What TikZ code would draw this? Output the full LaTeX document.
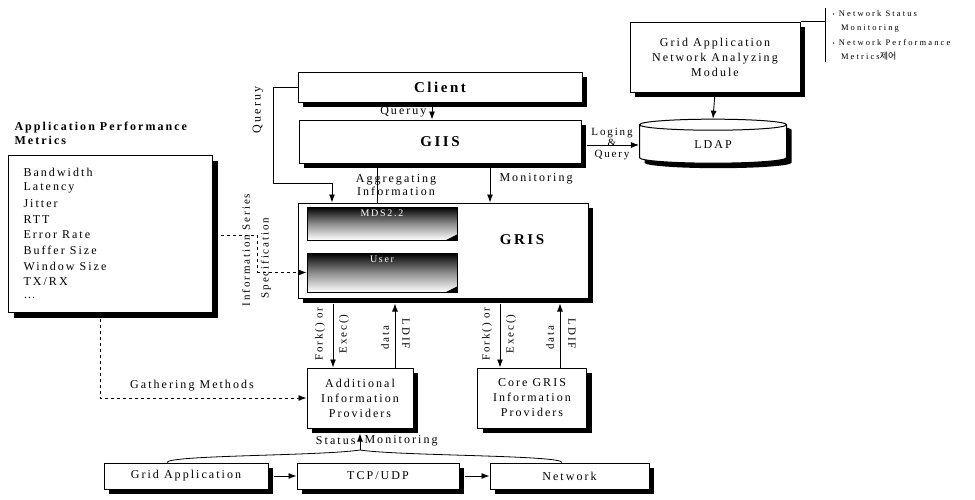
\documentclass[tikz,border=0pt]{standalone}
\usepackage{fontspec}
\setmainfont{Liberation Serif}[LetterSpace=17]
\newfontfamily\notefont{Liberation Serif}[LetterSpace=25]
\newfontfamily\krfont{Noto Sans CJK KR}
\usetikzlibrary{arrows.meta,shapes.geometric,shadows}

\begin{document}
\begin{tikzpicture}[x=1pt, y=-1pt, every node/.style={font=\fontsize{12}{14}\selectfont},
	box/.style={draw, line width=1pt, fill=white, align=center, inner sep=0pt,
		drop shadow={shadow xshift=5pt, shadow yshift=-5pt, fill=black, opacity=1}},
	title/.style={font=\bfseries\fontsize{15}{17}\selectfont},
	inbox/.style={draw, line width=0.8pt, top color=black, bottom color=white, middle color=black!45, minimum width=150, inner sep=0pt},
	arr/.style={-{Latex[length=8pt,width=6pt]}, line width=0.9pt},
	spec/.style={dashed, line width=0.8pt},
	side/.style={font=\fontsize{11}{12}\selectfont}]
	\useasboundingbox (0,0) rectangle (975,499);

	% analyzing module and LDAP
	\node[box, minimum width=170, minimum height=70, font=\fontsize{12}{15}\selectfont] (analyzer) at (715,57) {Grid Application\\Network Analyzing\\Module};
	\node[cylinder, shape border rotate=90, draw, line width=1pt, fill=white, aspect=0.25, minimum width=147, minimum height=44,
		drop shadow={shadow xshift=5pt, shadow yshift=-5pt, fill=black, opacity=1}] (ldap) at (713,145) {LDAP};
	\draw[arr] (analyzer.south) -- (ldap.north);
	\coordinate (notetop) at (825,8);
	\coordinate (notebot) at (825,62);
	\draw[line width=0.8pt] (analyzer.north east) -- (analyzer.north east -| notetop);
	\draw[line width=0.8pt] (notetop) -- (notebot);
	\node[anchor=north west, align=left, font=\notefont\fontsize{8.5}{14.5}\selectfont] (notes) at (829,7) {{\fontsize{6}{6}\selectfont•} Network Status\\\ \ Monitoring\\{\fontsize{6}{6}\selectfont•} Network Performance\\\ \ Metrics{\krfont\fontsize{9}{9}\selectfont 제어}};

	% client, GIIS, GRIS
	\node[box, title, minimum width=284, minimum height=30] (client) at (440,87) {Client};
	\node[box, title, minimum width=282, minimum height=43] (giis) at (440,141.5) {GIIS};
	\node[box, minimum width=290, minimum height=95] (gris) at (443,250.5) {};
	\node[title] (grislabel) at (522,240) {GRIS};
	\node[inbox, minimum height=33] (mds) at (382,223.5) {};
	\node[inbox, minimum height=39] (user) at (382,272.5) {};
	\node[anchor=north, white, font=\fontsize{10}{12}\selectfont] (mdslabel) at (mds.north) {MDS2.2};
	\node[anchor=north, white, font=\fontsize{10}{12}\selectfont] (userlabel) at (user.north) {User};
	\fill (mds.south east) -- ++(-12,0) -- ++(12,-6) -- cycle;
	\fill (user.south east) -- ++(-12,0) -- ++(12,-6) -- cycle;

	\draw[arr] ([xshift=-8]client.south) -- ([xshift=-8]giis.north);
	\node[anchor=east] (querylabel) at (430,112) {Queruy};
	\draw[arr] (client.west) -| (273,183) -| (gris.north -| 332,0);
	\node[rotate=90] (queryloop) at (258,110) {Queruy};
	\draw[line width=0.9pt] (giis.south -| 377,0) -- (gris.north -| 377,0);
	\node[align=center, font=\fontsize{12}{13}\selectfont] (aggregating) at (396,185) {Aggregating\\Information};
	\draw[arr] (giis.south -| 490,0) -- (gris.north -| 490,0);
	\node[anchor=west] (monlabel) at (496,179) {Monitoring};
	\draw[arr] ([xshift=5]giis.east |- ldap.west) -- (ldap.west);
	\node[align=center, font=\fontsize{11}{11}\selectfont] (logquery) at (612,144) {Loging\\\&\\Query};

	% application performance metrics
	\node[anchor=north west, align=left, font=\bfseries\fontsize{12}{14}\selectfont] (metricstitle) at (11,119) {Application Performance\\Metrics};
	\node[box, anchor=north west, minimum width=204, minimum height=157] (metrics) at (8,155) {};
	\foreach \m [count=\i] in {Bandwidth,Latency,Jitter,RTT,Error Rate,Buffer Size,Window Size,{TX/RX}}
		\node[anchor=west] (m\i) at (20,{172+15.7*(\i-1)}) {\m};
	\node[anchor=west] (m9) at (20,297.6) {\ldots};

	\coordinate (specbend) at (257,235);
	\draw[spec] ([xshift=8]metrics.east |- specbend) -- (specbend) -- (specbend |- user.west);
	\draw[spec, arr] (specbend |- user.west) -- (user.west);
	\node[rotate=90, side] (infoseries) at (246,250) {Information Series};
	\node[rotate=90, side] (specific) at (266,258) {Specification};

	% information providers
	\node[box, minimum width=106, minimum height=60, font=\fontsize{12}{15}\selectfont] (addl) at (360,398) {Additional\\Information\\Providers};
	\node[box, minimum width=109, minimum height=60, font=\fontsize{12}{15}\selectfont] (core) at (532,398) {Core GRIS\\Information\\Providers};
	\draw[spec, arr] (metrics.south -| 100,0) |- (addl.west);
	\node (gathering) at (192,386) {Gathering Methods};

	\draw[arr] ([yshift=-5]gris.south -| 333,0) -- (addl.north -| 333,0);
	\draw[arr] (addl.north -| 395,0) -- ([yshift=-5]gris.south -| 395,0);
	\draw[arr] ([yshift=-5]gris.south -| 500,0) -- (core.north -| 500,0);
	\draw[arr] (core.north -| 560,0) -- ([yshift=-5]gris.south -| 560,0);
	\node[rotate=90, side] (forka) at (320,334) {Fork() or};
	\node[rotate=90, side] (execa) at (344,334) {Exec()};
	\node[rotate=90, side] (dataa) at (385,338) {data};
	\node[rotate=-90, side] (ldifa) at (406,334) {LDIF};
	\node[rotate=90, side] (forkb) at (487,334) {Fork() or};
	\node[rotate=90, side] (execb) at (511,334) {Exec()};
	\node[rotate=90, side] (datab) at (550,338) {data};
	\node[rotate=-90, side] (ldifb) at (572,334) {LDIF};

	% monitored layers
	\node[box, minimum width=164, minimum height=26] (gridapp) at (186,476) {Grid Application};
	\node[box, minimum width=162, minimum height=26] (tcp) at (378,476) {TCP/UDP};
	\node[box, minimum width=159, minimum height=26] (net) at (569.5,476) {Network};
	\draw[arr] ([xshift=5]gridapp.east) -- (tcp.west);
	\draw[arr] ([xshift=5]tcp.east) -- (net.west);
	\coordinate (merge) at (360,450);
	\draw[line width=0.8pt] (gridapp.north -| 167,0) .. controls (167,455) and (320,456) .. (merge);
	\draw[line width=0.8pt] (net.north -| 562,0) .. controls (562,455) and (400,456) .. (merge);
	\draw[arr] (merge) -- ([yshift=-5]addl.south);
	\node[anchor=east] (status) at (359,441) {Status};
	\node[anchor=west] (statusmon) at (361,441) {Monitoring};
\end{tikzpicture}
\end{document}
